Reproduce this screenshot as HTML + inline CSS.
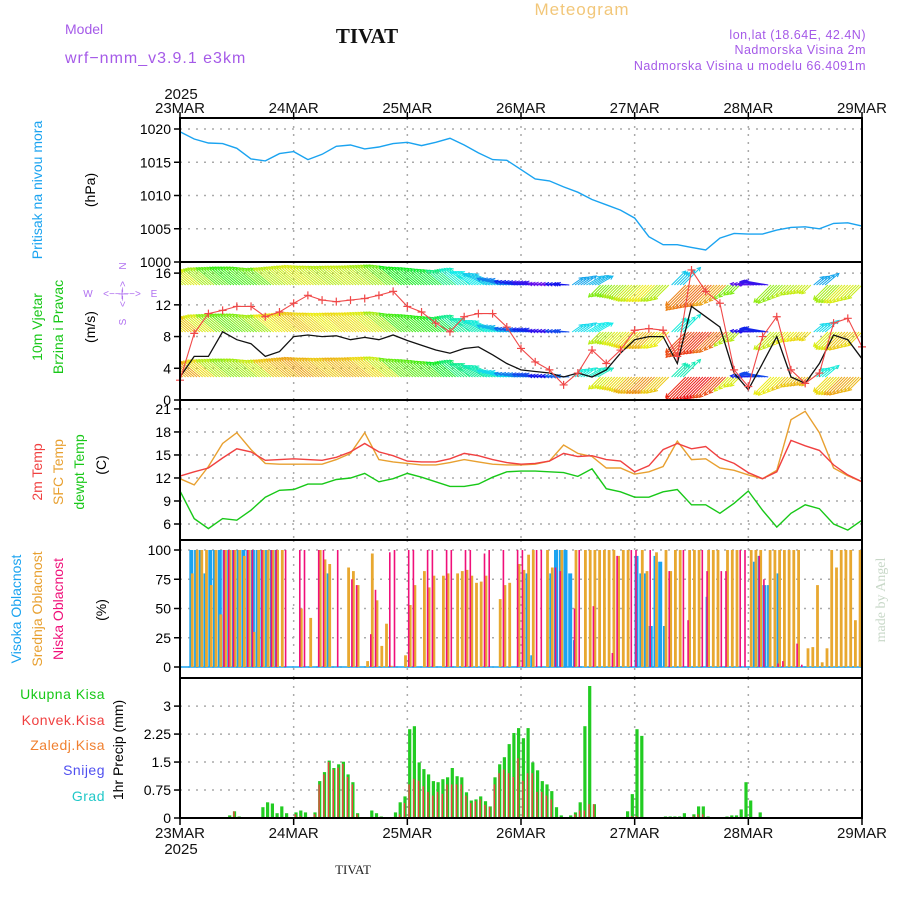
<!DOCTYPE html>
<html><head><meta charset="utf-8"><style>
html,body{margin:0;padding:0;background:#fff;}
svg{display:block;font-family:"Liberation Sans",sans-serif;}
</style></head><body>
<svg id="chart" width="900" height="900" viewBox="0 0 900 900" xmlns="http://www.w3.org/2000/svg">
<g>
<text x="582" y="15" font-size="17" fill="#f2c77a" text-anchor="middle" letter-spacing="1">Meteogram</text>
<text x="65" y="34" font-size="14" fill="#a55ae8">Model</text>
<text x="367" y="43" font-size="21" font-weight="bold" font-family="Liberation Serif, serif" text-anchor="middle" fill="#111">TIVAT</text>
<text x="65" y="63" font-size="16" fill="#a55ae8" letter-spacing="1">wrf−nmm_v3.9.1 e3km</text>
<text x="866" y="39" font-size="12.5" fill="#a55ae8" text-anchor="end" letter-spacing="0.5">lon,lat (18.64E, 42.4N)</text>
<text x="866" y="54" font-size="12.5" fill="#a55ae8" text-anchor="end" letter-spacing="0.5">Nadmorska Visina 2m</text>
<text x="866" y="70" font-size="12.5" fill="#a55ae8" text-anchor="end" letter-spacing="0.5">Nadmorska Visina u modelu 66.4091m</text>
<text x="353" y="874" font-size="13" font-family="Liberation Serif, serif" text-anchor="middle" fill="#222">TIVAT</text>
<text transform="translate(885,600) rotate(-90)" font-size="14" font-family="Liberation Serif, serif" text-anchor="middle" fill="#c8d8c8">made by Angel</text>
</g>
<g font-size="14">
<text transform="translate(42,190) rotate(-90)" text-anchor="middle" fill="#1aa3f0">Pritisak na nivou mora</text>
<text transform="translate(95,190) rotate(-90)" text-anchor="middle" fill="#000">(hPa)</text>
<text transform="translate(42,327) rotate(-90)" text-anchor="middle" fill="#18c818">10m Vjetar</text>
<text transform="translate(63,327) rotate(-90)" text-anchor="middle" fill="#18c818">Brzina i Pravac</text>
<text transform="translate(95,327) rotate(-90)" text-anchor="middle" fill="#000">(m/s)</text>
<g fill="#b070f0" font-size="10" text-anchor="middle">
<text x="88" y="297">W</text><text x="154" y="297">E</text>
<text transform="translate(126,266) rotate(-90)">N</text><text transform="translate(126,322) rotate(-90)">S</text>
<text x="122" y="297" font-size="10">&lt;−−|−−&gt;</text>
<text transform="translate(126,294) rotate(-90)" font-size="10">&lt;−|−&gt;</text>
</g>
<text transform="translate(42,472) rotate(-90)" text-anchor="middle" fill="#f04040">2m Temp</text>
<text transform="translate(63,472) rotate(-90)" text-anchor="middle" fill="#e8a030">SFC Temp</text>
<text transform="translate(84,472) rotate(-90)" text-anchor="middle" fill="#18c818">dewpt Temp</text>
<text transform="translate(106,465) rotate(-90)" text-anchor="middle" fill="#000">(C)</text>
<text transform="translate(21,609) rotate(-90)" text-anchor="middle" fill="#1aa3f0">Visoka Oblacnost</text>
<text transform="translate(42,609) rotate(-90)" text-anchor="middle" fill="#e8a030">Srednja Oblacnost</text>
<text transform="translate(63,609) rotate(-90)" text-anchor="middle" fill="#f0107a">Niska Oblacnost</text>
<text transform="translate(106,610) rotate(-90)" text-anchor="middle" fill="#000">(%)</text>
<text x="105" y="699" text-anchor="end" fill="#18c818" letter-spacing="0.5">Ukupna  Kisa</text>
<text x="105" y="725" text-anchor="end" fill="#f04040" letter-spacing="0.5">Konvek.Kisa</text>
<text x="105" y="750" text-anchor="end" fill="#f08030" letter-spacing="0.5">Zaledj.Kisa</text>
<text x="105" y="775" text-anchor="end" fill="#5050f0" letter-spacing="0.5">Snijeg</text>
<text x="105" y="801" text-anchor="end" fill="#20c8c8" letter-spacing="0.5">Grad</text>
<text transform="translate(123,750) rotate(-90)" text-anchor="middle" fill="#000">1hr Precip (mm)</text>
</g>
<g id="plot"></g>
</svg>
<script>
const dayLabels=["23MAR","24MAR","25MAR","26MAR","27MAR","28MAR","29MAR"];
const pressure=[1019.6,1018.5,1017.9,1017.8,1017.1,1015.5,1015.2,1016.3,1016.6,1015.4,1016.2,1017.4,1017.6,1017.0,1017.3,1017.8,1018.0,1017.5,1018.0,1018.6,1017.6,1016.4,1015.4,1015.3,1013.9,1012.5,1012.2,1011.3,1010.5,1009.4,1008.6,1007.8,1006.6,1003.8,1002.6,1002.6,1002.2,1001.8,1003.6,1004.3,1004.2,1004.2,1004.8,1005.2,1005.3,1005.0,1005.8,1005.9,1005.4];
const pressureTicks=[1000,1005,1010,1015,1020];
const windSpeed=[2.9,5.5,5.5,8.6,7.6,7.1,5.5,6.1,8.0,8.2,8.0,8.1,7.6,7.9,7.6,8.2,7.5,6.9,6.3,5.9,6.5,6.7,5.7,4.6,3.8,3.6,3.4,2.9,3.4,2.9,3.8,5.9,7.6,8.0,8.0,4.6,11.8,10.5,9.2,3.4,1.3,4.6,8.0,2.9,2.1,4.6,8.2,7.6,5.2];
const windGust=[2.5,8.4,10.9,11.3,11.8,11.8,10.5,11.1,12.2,13.2,12.6,12.4,12.6,12.8,13.2,13.7,11.8,11.1,9.7,8.6,10.5,10.9,10.9,9.2,6.5,4.8,3.8,1.9,3.4,6.3,4.6,6.3,8.8,9.0,8.8,5.5,16.4,13.7,12.2,3.8,1.7,8.0,10.5,3.8,2.1,3.4,9.7,10.3,6.7];
const windDir=[140,140,140,140,140,140,140,140,140,140,140,140,140,140,140,140,140,140,140,140,140,150,155,165,170,170,175,175,35,30,225,225,225,225,225,45,225,225,225,225,175,170,225,225,225,40,225,225,225];
const windHue=[70,65,80,100,110,105,95,75,70,65,70,75,70,72,80,95,120,125,130,150,170,180,190,210,235,250,265,240,200,195,90,80,70,60,75,190,30,25,40,90,260,250,85,75,70,200,80,65,70];
const windTicks=[0,4,8,12,16];
const temp2m=[12.25,12.8,13.3,14.6,15.8,15.4,14.3,14.4,14.5,14.4,14.3,14.7,15.4,16.5,15.4,14.9,14.2,14.1,14.1,14.5,15.2,14.9,14.4,14.0,13.8,13.9,14.2,15.2,14.8,14.9,14.4,14.2,12.8,13.6,15.7,16.5,15.8,16.1,14.6,13.9,12.7,11.9,12.8,16.9,16.2,15.6,13.7,12.4,11.5];
const tempSfc=[11.9,11.1,13.5,16.5,17.9,15.7,13.9,13.8,13.8,13.8,13.8,14.4,15.2,17.9,14.4,14.1,13.9,13.7,13.7,14.0,14.4,14.1,13.8,13.7,13.7,13.8,14.2,16.3,15.2,14.8,13.3,13.3,12.5,12.8,13.5,16.8,14.4,14.5,13.3,13.0,12.4,11.9,13.0,19.6,20.7,17.9,13.3,12.3,11.5];
const tempDew=[10.3,6.7,5.4,6.7,6.5,7.8,9.5,10.4,10.5,11.2,11.2,11.8,12.0,12.6,11.5,11.9,12.6,12.1,11.5,10.9,10.9,11.2,12.1,12.8,12.9,12.9,12.8,12.7,12.2,13.2,10.6,10.2,9.5,9.5,10.2,10.5,8.5,8.5,7.4,8.7,10.3,7.8,5.6,7.4,8.5,8.0,6.0,5.2,6.5];
const tempTicks=[6,9,12,15,18,21];
const cloudHigh=[0,0,100,100,100,80,100,100,100,100,100,100,100,100,100,100,100,100,100,100,100,0,0,0, 0,0,0,0,0,0,0,80,0,0,0,0,0,0,0,0,0,0,0,0,0,0,0,0, 0,0,0,0,0,0,0,0,0,0,0,0,0,0,0,0,0,0,0,0,0,0,0,0, 0,80,10,0,0,0,80,100,100,100,80,23,0,0,0,0,0,0,0,0,0,0,0,0, 95,80,80,35,95,90,35,0,0,0,0,0,0,0,0,60,0,0,0,0,0,0,0,0, 0,90,95,70,70,0,80,0,0,0,0,0,0,0,0,0,0,0,0,0,0,0,0,0];
const cloudMid=[0,0,80,100,100,100,70,100,45,100,100,100,100,95,100,30,100,100,100,100,100,100,0,0, 0,50,0,42,0,100,92,88,0,0,0,85,82,70,0,5,97,57,18,37,1,0,0,10, 53,70,0,82,68,78,0,78,80,0,80,82,83,78,72,73,78,0,0,58,70,72,0,88, 83,96,100,0,0,100,85,0,100,0,0,100,0,100,100,100,100,100,100,100,95,100,100,0, 0,100,82,0,98,0,100,82,100,100,0,100,100,100,0,100,100,100,0,100,100,100,0,0, 100,100,100,0,100,100,100,100,100,100,100,0,16,17,70,4,16,100,85,100,100,100,40,100];
const cloudLow=[0,0,0,0,0,0,0,0,0,100,100,100,0,0,100,100,0,100,0,100,100,0,100,0, 0,100,100,0,0,100,100,0,0,100,0,0,75,70,0,0,28,66,0,0,98,100,0,0, 100,100,0,0,100,100,0,0,100,100,0,0,100,100,0,0,97,100,0,0,100,0,0,100, 100,0,0,100,100,0,0,85,82,0,0,50,100,0,0,52,0,0,0,12,95,0,0,100, 100,0,0,100,0,0,0,82,0,0,100,40,0,0,100,82,0,0,82,82,0,0,100,100, 0,0,95,75,0,0,3,5,0,0,20,2,0,0,0,0,0,0,0,0,0,0,0,0];
const cloudTicks=[0,25,50,75,100];
const precipTotal=[0,0,0,0,0,0,0,0,0,0,0.07,0.18,0.04,0,0,0,0,0.29,0.42,0.39,0.13,0.31,0.13,0, 0.15,0.2,0.15,0,0.15,0.99,1.23,1.54,1.34,1.44,1.51,1.17,0.96,0.13,0,0,0.2,0.13,0.04,0,0,0.15,0.42,0.58, 2.38,2.46,1.49,1.31,1.17,0.99,0.96,1.04,1.09,1.34,1.12,1.09,0.69,0.47,0.5,0.58,0.45,0.31,1.09,1.44,1.63,1.98,2.28,2.41, 2.14,2.41,1.49,1.28,0.99,0.9,0.72,0.29,0.07,0,0.07,0.15,0.42,2.46,3.54,0.37,0,0,0,0,0,0,0.18,0.64, 2.38,2.2,0,0,0,0,0.04,0.04,0.04,0.04,0.13,0,0.1,0.31,0.31,0.04,0,0,0,0.04,0.07,0.07,0.23,0.96, 0.47,0,0.15,0,0,0,0,0,0,0,0,0,0,0,0,0,0,0,0,0,0,0,0,0];
const precipConv=[0,0,0,0,0,0,0,0,0,0,0.03,0.18,0.03,0,0,0,0,0,0,0,0,0,0,0, 0.1,0.05,0,0,0.1,0.9,1.17,1.5,1.3,1.35,1.45,1.1,0.9,0.1,0,0,0,0,0.03,0,0,0.03,0.1,0.4, 0.9,1.05,1.0,0.85,0.7,0.6,0.7,0.65,0.9,0.9,0.9,0.9,0.6,0.4,0.45,0.5,0.35,0.3,0.9,1.2,1.3,1.2,1.1,1.6, 1.0,1.2,1.2,0.7,0.7,0.6,0.5,0,0,0,0,0.1,0.2,0.2,0.37,0.37,0,0,0,0,0,0,0,0.05, 0.05,0.03,0,0,0,0,0.02,0.02,0.02,0,0,0,0.05,0.1,0.1,0.02,0,0,0,0,0,0,0.03,0, 0,0,0,0,0,0,0,0,0,0,0,0,0,0,0,0,0,0,0,0,0,0,0,0];
const precipTicks=[0,0.75,1.5,2.25,3];
const precipTickLabels=["0","0.75","1.5","2.25","3"];

const NS="http://www.w3.org/2000/svg";
const plot=document.getElementById('plot');
const X0=180,X1=862,HOURS=144;
function xOf(h){return X0+h*(X1-X0)/HOURS;}
function el(tag,attrs,parent){const e=document.createElementNS(NS,tag);for(const k in attrs)e.setAttribute(k,attrs[k]);(parent||plot).appendChild(e);return e;}
const panels={
 p:{top:118,bot:262,y:v=>262-(v-1000)*6.65},
 w:{top:262,bot:400,y:v=>400-v*7.93},
 t:{top:400,bot:540,y:v=>524-(v-6)*7.67},
 c:{top:540,bot:678,y:v=>667-v*1.17},
 r:{top:678,bot:818,y:v=>818-v*37.3}
};
function grid(pn,ticks,labels,name){
  const P=panels[pn];
  const g=el('g',{});
  
  
  for(let d=1;d<6;d++){
    const l=el('line',{x1:xOf(d*24),x2:xOf(d*24),y1:P.top,y2:P.bot,stroke:'#aaa','stroke-dasharray':'2,6','stroke-width':1.5},g);
    
    
  }
  ticks.forEach((v,i)=>{
    const y=P.y(v);
    if(y>P.top+3&&y<P.bot-3){
      const l=el('line',{x1:X0,x2:X1,y1:y,y2:y,stroke:'#aaa','stroke-dasharray':'2,6','stroke-width':1.5},g);
      
      
    }
    const tk=el('line',{x1:X0-6,x2:X0,y1:y,y2:y,stroke:'#000','stroke-width':1.5},g);
    
    
    const t=el('text',{x:X0-9,y:y+5,'font-size':14,'text-anchor':'end',fill:'#000'},g);
    t.textContent=labels?labels[i]:String(v);
    
    
  });
}
function line(pn,arr,color,name,w){
  const P=panels[pn];
  const d=arr.map((v,i)=>(i?'L':'M')+xOf(i*3).toFixed(1)+','+P.y(v).toFixed(1)).join('');
  const p=el('path',{d:d,fill:'none',stroke:color,'stroke-width':w||1.3});
  
  
  return p;
}
function interp(arr,h){const k=h/3,i=Math.min(Math.floor(k),arr.length-2),f=k-i;return arr[i]*(1-f)+arr[i+1]*f;}

// panel 1 pressure
grid('p',pressureTicks,null,'pressure');
line('p',pressure,'#1aa3f0','pressure-line',1.4);
// panel 2 wind
grid('w',windTicks,null,'wind');
const clipW=el('clipPath',{id:'cw'});el('rect',{x:X0,y:262,width:X1-X0,height:138},clipW);
const barbs=el('g',{'clip-path':'url(#cw)'});


const rowBases=[285,332,377],rowHueOff=[0,-15,-25];
for(let r=0;r<3;r++){
  for(let h=0;h<=HOURS;h+=0.6){
    const k=Math.min(Math.round(h/3),48);
    const dir=windDir[k]*Math.PI/180;
    const len=8+interp(windGust,h)*1.7;
    const hue=(windHue[k]+rowHueOff[r]+360)%360;
    const col='hsl('+hue+',85%,50%)';
    const x=xOf(h),y=rowBases[r];
    const x2=x+len*Math.cos(dir),y2=y-len*Math.sin(dir);
    const a=el('line',{x1:x,y1:y,x2:x2,y2:y2,stroke:col,'stroke-width':1},barbs);
    
    
    const hd=4;
    el('path',{d:'M'+(x2-hd*Math.cos(dir-0.5)).toFixed(1)+','+(y2+hd*Math.sin(dir-0.5)).toFixed(1)+'L'+x2.toFixed(1)+','+y2.toFixed(1)+'L'+(x2-hd*Math.cos(dir+0.5)).toFixed(1)+','+(y2+hd*Math.sin(dir+0.5)).toFixed(1),fill:'none',stroke:col,'stroke-width':1},barbs);
  }
}
line('w',windSpeed,'#111','wind-speed-line',1.3);
line('w',windGust,'#f04848','wind-gust-line',1.1);
windGust.forEach((v,i)=>{
  const x=xOf(i*3),y=panels.w.y(v);
  const m=el('path',{d:'M'+(x-4)+','+y+'h8M'+x+','+(y-4)+'v8',stroke:'#f04848','stroke-width':1.2});
  
  
});
// panel 3 temperature
grid('t',tempTicks,null,'temperature');
line('t',tempDew,'#18c818','dewpoint-line',1.4);
line('t',tempSfc,'#e8a030','sfc-temp-line',1.4);
line('t',temp2m,'#f04040','temp-2m-line',1.4);
// panel 4 clouds
grid('c',cloudTicks,null,'cloud');
function bars(pn,arr,color,w,off,name){
  const P=panels[pn];
  arr.forEach((v,h)=>{
    if(v<=0)return;
    const x=xOf(h+0.5)+off;
    const r=el('rect',{x:(x-w/2).toFixed(1),y:P.y(v).toFixed(1),width:w,height:(P.y(0)-P.y(v)).toFixed(1),fill:color});
    
    
  });
}
el('line',{x1:X0,x2:X1,y1:panels.c.y(0),y2:panels.c.y(0),stroke:'#1aa3f0','stroke-width':1.5});
bars('c',cloudHigh,'#1aa3f0',4,-0.5,'high-cloud-bar');
bars('c',cloudMid,'#e8a830',2.8,0.5,'mid-cloud-bar');
bars('c',cloudLow,'#f0107a',1.6,-1,'low-cloud-bar');
// panel 5 precip
grid('r',precipTicks,precipTickLabels,'precip');
bars('r',precipTotal,'#22cc22',3.2,0,'total-precip-bar');
bars('r',precipConv,'#f04040',1.4,-0.6,'convective-precip-bar');

// frames
[118,262,400,540,678].forEach((t,i)=>{
  const b=[262,400,540,678,818][i];
  const f=el('rect',{x:X0,y:t,width:X1-X0,height:b-t,fill:'none',stroke:'#000','stroke-width':2});
  
  
});
// x axes
for(let d=0;d<=6;d++){
  const x=xOf(d*24);
  el('line',{x1:x,x2:x,y1:112,y2:118,stroke:'#000','stroke-width':1.5});
  el('line',{x1:x,x2:x,y1:818,y2:825,stroke:'#000','stroke-width':1.5});
  const t1=el('text',{x:x,y:113,'font-size':15,'text-anchor':'middle',fill:'#111'});
  t1.textContent=dayLabels[d];
  
  
  const t2=el('text',{x:x,y:838,'font-size':15,'text-anchor':'middle',fill:'#111'});
  t2.textContent=dayLabels[d];
  
  
}
const y1=el('text',{x:xOf(0)+1,y:99,'font-size':15,'text-anchor':'middle',fill:'#111'});y1.textContent='2025';


const y2=el('text',{x:xOf(0)+1,y:854,'font-size':15,'text-anchor':'middle',fill:'#111'});y2.textContent='2025';


</script>
</body></html>
